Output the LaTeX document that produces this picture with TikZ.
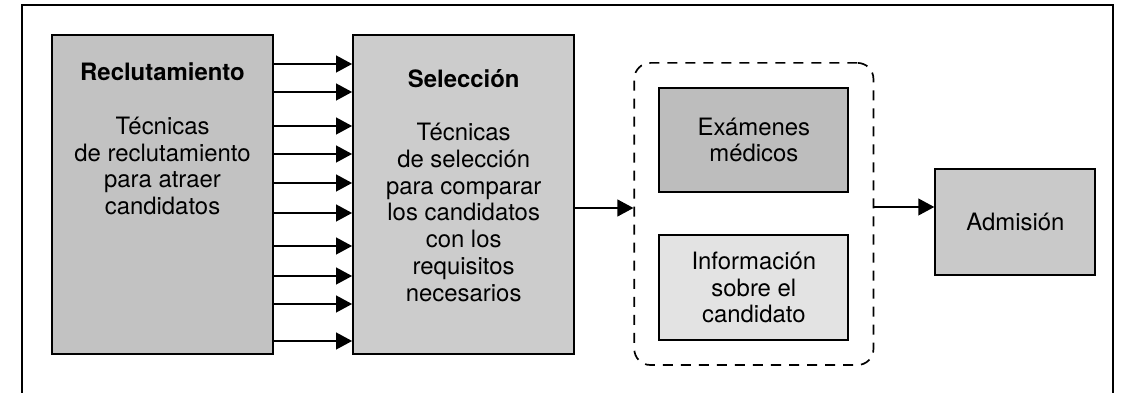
\documentclass[tikz,border=0pt]{standalone}
\usepackage{fontspec}
\setmainfont{TeX Gyre Heros}
\usetikzlibrary{positioning}
\usetikzlibrary{fit}
\usetikzlibrary{arrows.meta}

\begin{document}
\begin{tikzpicture}[x=0.025cm, y=0.025cm,
    every node/.style={font=\fontsize{17}{19}\selectfont},
    stage/.style={draw, line width=1.5pt, inner sep=0pt, align=center},
    flow/.style={line width=1.2pt, -{Triangle[length=0.4cm, width=0.42cm]}},
    group/.style={draw, dash pattern=on 0.25cm off 0.2cm, line width=1.2pt, rounded corners=0.4cm}]
    \useasboundingbox (0,0) rectangle (1127,393);
    \draw[line width=1.2pt] (22,0) -- (22,388) -- (1113,388) -- (1113,0);

    \node[stage, fill=gray!48, minimum width=5.525cm, minimum height=7.975cm] (rec) at (162.5,198.5) {};
    \node[stage, fill=gray!40, minimum width=5.525cm, minimum height=7.975cm, right=1.95cm of rec] (sel) {};

    \node (recT) at ([yshift=-0.95cm]rec.north) {\textbf{Reclutamiento}};
    \node[align=center] (recB) at ([yshift=-3.3cm]rec.north) {Técnicas\\de reclutamiento\\para atraer\\candidatos};
    \node (selT) at ([yshift=-1.125cm]sel.north) {\textbf{Selección}};
    \node[align=center] (selB) at ([yshift=-4.46cm]sel.north) {Técnicas\\de selección\\para comparar\\los candidatos\\con los\\requisitos\\necesarios};

    \foreach \y in {329,301,267,239,210,180,147,117,89,52}
        \draw[flow] (rec.east |- 0,\y) -- (sel.west |- 0,\y);

    \node[stage, fill=gray!52, minimum width=4.725cm, minimum height=2.6cm, below right=1.325cm and 2.075cm of sel.north east] (exa) {Exámenes\\médicos};
    \node[stage, fill=gray!22, minimum width=4.725cm, minimum height=2.62cm, below=1.025cm of exa] (inf) {Información\\sobre el\\candidato};
    \node[group, fit=(exa)(inf), inner sep=0.6cm] (grp) {};

    \node[stage, fill=gray!42, minimum width=4cm, minimum height=2.65cm, right=1.5cm of grp, yshift=-0.2cm] (adm) {Admisión};

    \draw[flow] (sel.east |- 0,185) -- (grp.west |- 0,185);
    \draw[flow] (grp.east |- 0,186) -- (adm.west |- 0,186);
\end{tikzpicture}
\end{document}
